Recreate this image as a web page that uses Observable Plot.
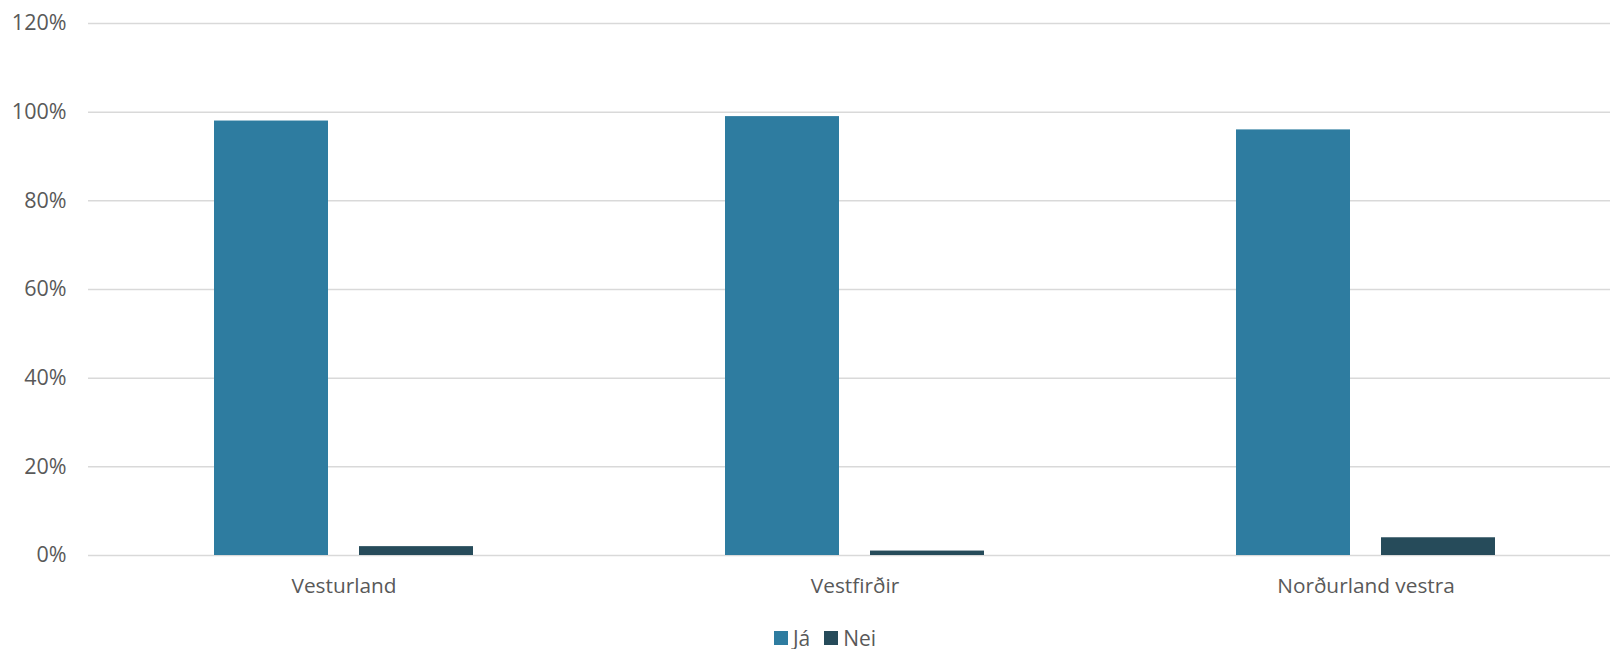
<!DOCTYPE html>
<html>
<head>
<meta charset="utf-8">
<script src="https://cdn.jsdelivr.net/npm/d3@7"></script>
<script src="https://cdn.jsdelivr.net/npm/@observablehq/plot@0.6"></script>
<style>
  html, body { margin: 0; padding: 0; background: #fff; overflow: hidden; }
  #chart { width: 1610px; }
  .legend { display: flex; justify-content: center; gap: 14px; font-family: "Open Sans", sans-serif; font-size: 21px; color: #595959; margin-top: 12px; padding-left: 40px; }
  .legend span.item { display: inline-flex; align-items: center; gap: 5px; }
  .legend span.sw { display: inline-block; width: 14px; height: 14px; }
</style>
</head>
<body>
<div id="chart"></div>
<script>
const regions = ["Vesturland", "Vestfirðir", "Norðurland vestra"];
const seriesNames = ["Já", "Nei"];
const jaValues = [0.98, 0.99, 0.96];
const neiValues = [0.02, 0.01, 0.04];
const yTicks = [0, 0.2, 0.4, 0.6, 0.8, 1.0, 1.2];
const colors = ["#2e7ca0", "#264b5a"];

const data = [];
regions.forEach((r, i) => {
  data.push({region: r, series: seriesNames[0], value: jaValues[i]});
  data.push({region: r, series: seriesNames[1], value: neiValues[i]});
});

const plot = Plot.plot({
  width: 1610,
  height: 612,
  marginLeft: 87,
  marginRight: -11,
  marginTop: 23,
  marginBottom: 57,
  style: {fontFamily: "Open Sans, sans-serif", fontSize: "21px", color: "#595959", background: "#fff", overflow: "hidden"},
  fx: {domain: regions, padding: 0, label: null},
  x: {domain: seriesNames, paddingInner: 0.212, paddingOuter: 0.857, axis: null},
  y: {domain: [0, 1.2], label: null},
  color: {domain: seriesNames, range: colors},
  marks: [
    Plot.ruleY(yTicks, {stroke: "#d9d9d9", strokeWidth: 1.5}),
    Plot.barY(data, {fx: "region", x: "series", y: "value", fill: "series"}),
    Plot.axisY({ticks: yTicks, tickFormat: d => Math.round(d * 100) + "%", tickSize: 0, tickPadding: 22, fontSize: 21.5, fill: "#595959"}),
    Plot.axisFx({anchor: "bottom", tickSize: 0, tickPadding: 23, fontSize: 20.8, fill: "#595959", label: null})
  ]
});
document.getElementById("chart").appendChild(plot);

const legend = document.createElement("div");
legend.className = "legend";
seriesNames.forEach((s, i) => {
  const item = document.createElement("span");
  item.className = "item";
  const sw = document.createElement("span");
  sw.className = "sw";
  sw.style.background = colors[i];
  item.appendChild(sw);
  item.appendChild(document.createTextNode(s));
  legend.appendChild(item);
});
document.body.appendChild(legend);
</script>
</body>
</html>
